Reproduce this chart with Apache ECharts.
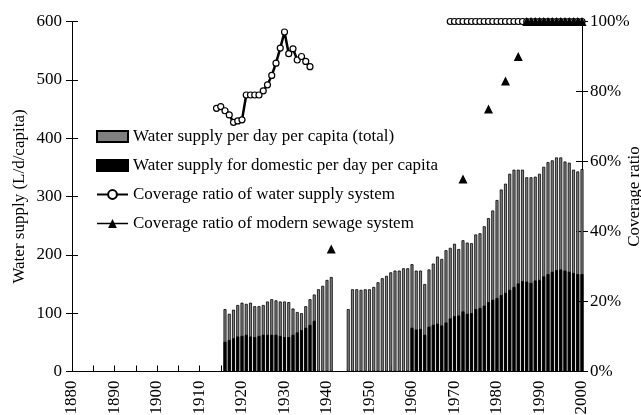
<!DOCTYPE html>
<html>
<head>
<meta charset="utf-8">
<script src="https://cdn.jsdelivr.net/npm/echarts@6/dist/echarts.min.js"></script>
<style>html,body{margin:0;padding:0;background:#fff}#c{width:641px;height:415px}</style>
</head>
<body>
<div id="c"></div>
<script>
// ---- data ----
const totalYears = [1916,1917,1918,1919,1920,1921,1922,1923,1924,1925,1926,1927,1928,1929,1930,1931,1932,1933,1934,1935,1936,1937,1938,1939,1940,1941,
  1945,1946,1947,1948,1949,1950,1951,1952,1953,1954,1955,1956,1957,1958,1959,1960,1961,1962,1963,1964,1965,1966,1967,1968,1969,
  1970,1971,1972,1973,1974,1975,1976,1977,1978,1979,1980,1981,1982,1983,1984,1985,1986,1987,1988,1989,1990,1991,1992,1993,1994,
  1995,1996,1997,1998,1999,2000];
const totalSupply = [107,99,106,114,118,116,118,112,112,114,120,124,122,120,120,119,108,102,100,112,124,132,141,147,157,162,
  107,141,141,140,141,141,145,153,160,164,170,173,173,177,177,184,173,173,150,175,185,197,193,208,212,
  219,210,225,221,220,235,237,249,263,276,294,312,322,339,346,346,346,333,333,334,339,351,359,362,367,
  367,360,358,346,343,347];
const domesticYears = [1916,1917,1918,1919,1920,1921,1922,1923,1924,1925,1926,1927,1928,1929,1930,1931,1932,1933,1934,1935,1936,1937,
  1960,1961,1962,1963,1964,1965,1966,1967,1968,1969,1970,1971,1972,1973,1974,1975,1976,1977,1978,1979,
  1980,1981,1982,1983,1984,1985,1986,1987,1988,1989,1990,1991,1992,1993,1994,1995,1996,1997,1998,1999,2000];
const domesticSupply = [51,54,57,60,61,63,60,59,61,63,63,63,63,61,59,59,63,67,71,75,80,87,
  75,72,73,63,77,80,82,79,84,91,95,96,103,99,100,107,109,113,119,123,
  126,131,135,140,145,151,155,154,152,156,157,163,167,171,174,175,173,171,169,167,167];
const waterCovYears = [1914,1915,1916,1917,1918,1919,1920,1921,1922,1923,1924,1925,1926,1927,1928,1929,1930,1931,1932,1933,1934,1935,1936,
  1950,
  1969,1970,1971,1972,1973,1974,1975,1976,1977,1978,1979,1980,1981,1982,1983,1984,1985,1986,1987,1988,1989,1990,1991,1992,1993,1994,
  1995,1996,1997,1998,1999,2000];
const waterCoverage = [75.2,75.7,74.5,73.3,71.2,71.6,71.9,79,79,79,79,80.2,81.9,84.6,88.1,92.4,97,90.8,92.2,89,90,88.6,87.1,
  null,
  100,100,100,100,100,100,100,100,100,100,100,100,100,100,100,100,100,100,100,100,100,100,100,100,100,100,
  100,100,100,100,100,100];
const sewageYears = [1941,1972,1978,1982,1985,1987,1988,1989,1990,1991,1992,1993,1994,1995,1996,1997,1998,1999,2000];
const sewageCoverage = [35,55,75,83,90,100,100,100,100,100,100,100,100,100,100,100,100,100,100];

const names = ['Water supply per day per capita (total)','Water supply for domestic per day per capita',
  'Coverage ratio of water supply system','Coverage ratio of modern sewage system'];

const zip = (xs, ys) => xs.map((x, i) => [x, ys[i]]);
const FONT = 'Liberation Serif';
const black = '#000';

const chart = echarts.init(document.getElementById('c'), null, {renderer:'canvas'});
const gridPos = {left:72, right:59, top:21.5, bottom:43.5, containLabel:false, outerBoundsMode:'none'};
chart.setOption({
  animation:false,
  backgroundColor:'#fff',
  textStyle:{fontFamily:FONT, color:black},
  grid:[Object.assign({}, gridPos), Object.assign({}, gridPos)],
  legend:{
    orient:'vertical', left:96, top:128, padding:0,
    itemWidth:31, itemHeight:11, itemGap:12,
    textStyle:{fontFamily:FONT, fontSize:17, color:black},
    data:[
      {name:names[0], icon:'rect'},
      {name:names[1], icon:'rect'},
      {name:names[2]},
      {name:names[3], lineStyle:{opacity:1, width:1.5, color:black}}
    ]
  },
  xAxis:[
    {type:'value', gridIndex:0, min:1880, max:2000, interval:5,
     axisLine:{show:true, lineStyle:{color:black, width:1}},
     axisTick:{show:true, inside:true, length:6, lineStyle:{color:black}},
     axisLabel:{rotate:90, margin:9, color:black, fontSize:17, fontFamily:FONT,
       formatter:v => (v % 10 === 0 ? String(v) : '')},
     splitLine:{show:false}},
    {type:'value', gridIndex:1, min:1880, max:2000, show:false}
  ],
  yAxis:[
    {type:'value', gridIndex:0, position:'left', min:0, max:600, interval:100,
     name:'Water supply (L/d/capita)', nameLocation:'middle', nameGap:44, nameRotate:90,
     nameMoveOverlap:false,
     nameTextStyle:{fontSize:17, color:black, fontFamily:FONT},
     axisLine:{show:true, lineStyle:{color:black}},
     axisTick:{show:true, length:6, lineStyle:{color:black}},
     axisLabel:{margin:10, color:black, fontSize:17, fontFamily:FONT},
     splitLine:{show:false}},
    {type:'value', gridIndex:0, position:'right', min:0, max:100, interval:20,
     name:'Coverage ratio', nameLocation:'middle', nameGap:44, nameRotate:90,
     nameMoveOverlap:false,
     nameTextStyle:{fontSize:17, color:black, fontFamily:FONT},
     axisLine:{show:true, lineStyle:{color:black}},
     axisTick:{show:true, length:6, lineStyle:{color:black}},
     axisLabel:{margin:8, color:black, fontSize:17, fontFamily:FONT, formatter:'{value}%'},
     splitLine:{show:false}},
    {type:'value', gridIndex:1, position:'left', min:0, max:600, interval:100,
     axisLine:{show:false}, axisLabel:{show:false}, splitLine:{show:false},
     axisTick:{show:true, inside:true, length:6, lineStyle:{color:black}}},
    {type:'value', gridIndex:1, position:'right', min:0, max:100, interval:20,
     axisLine:{show:false}, axisLabel:{show:false}, splitLine:{show:false},
     axisTick:{show:true, inside:true, length:6, lineStyle:{color:black}}}
  ],
  series:[
    {name:names[0], type:'bar', xAxisIndex:0, yAxisIndex:0, barWidth:3, barGap:'-100%',
     itemStyle:{color:'#808080', borderColor:black, borderWidth:0.8},
     data:zip(totalYears, totalSupply)},
    {name:names[1], type:'bar', xAxisIndex:0, yAxisIndex:0, barWidth:3, barGap:'-100%',
     itemStyle:{color:black, borderColor:black, borderWidth:0.8},
     data:zip(domesticYears, domesticSupply)},
    {name:names[2], type:'line', xAxisIndex:0, yAxisIndex:1, symbol:'circle', symbolSize:6,
     showSymbol:true, connectNulls:false,
     itemStyle:{color:'#fff', borderColor:black, borderWidth:1.2},
     lineStyle:{color:black, width:2.5},
     data:zip(waterCovYears, waterCoverage)},
    {name:names[3], type:'line', xAxisIndex:0, yAxisIndex:1, symbol:'triangle', symbolSize:9,
     itemStyle:{color:black},
     lineStyle:{color:black, width:1.5, opacity:0},
     data:zip(sewageYears, sewageCoverage)}
  ]
});
</script>
</body>
</html>
